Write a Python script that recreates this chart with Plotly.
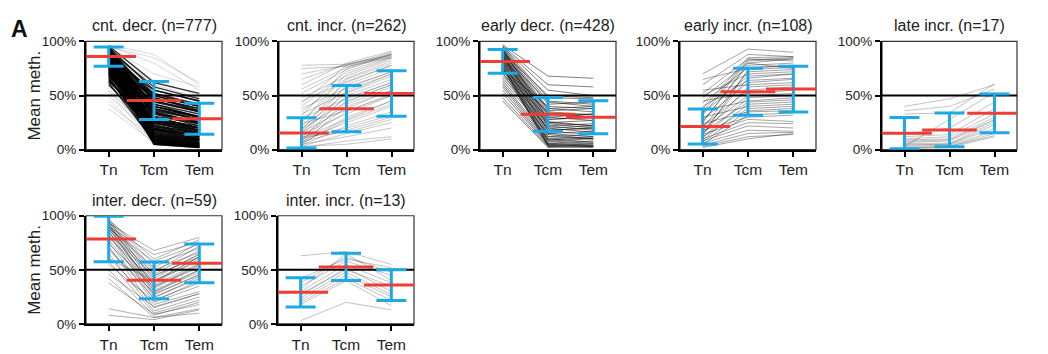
import plotly.graph_objects as go

# ---------------- data ----------------
STAGES = ["Tn", "Tcm", "Tem"]
TITLES = ["cnt. decr. (n=777)", "cnt. incr. (n=262)", "early decr. (n=428)",
          "early incr. (n=108)", "late incr. (n=17)", "inter. decr. (n=59)",
          "inter. incr. (n=13)"]
REF_LEVEL = 50

# cnt. decr. (dense core)
cd_tn = [96,95,94,93,92,92,91,91,90,90,89,89,88,88,87,87,86,86,85,85,84,84,83,83,82,82,81,80,80,79,
         78,78,77,76,75,74,73,72,71,70,68,66,64,62,60,
         96,95,94,93,92,91,90,89,88,87,86,85,84,83,82,81,80,79,78,77,76,75,74,73,72,70,69,67,65,63]
cd_tcm = [62,55,48,40,58,35,52,30,50,25,47,20,45,15,42,10,40,8,38,6,36,5,33,28,22,18,12,44,9,31,
          27,16,7,24,5,37,14,19,11,26,6,13,21,8,17,
          30,22,45,12,38,18,50,8,27,42,14,33,55,20,10,48,25,6,35,16,40,11,29,52,19,9,23,34,13,26]
cd_tem = [52,45,38,30,47,25,42,20,40,16,38,12,36,9,33,5,31,4,30,3,28,2,26,22,16,13,8,35,5,24,
          20,10,3,18,2,28,9,14,6,20,3,8,15,4,11,
          20,12,35,6,28,10,40,3,18,30,7,22,45,12,5,36,15,3,25,9,30,5,18,40,10,4,14,24,6,17]
# cnt. decr. (sparse outliers)
cd_faint_tn = [97,96,95,94,93,95,57,54,50,46,42,38,60,55]
cd_faint_tcm = [88,80,70,64,60,85,9,6,12,5,10,7,20,15]
cd_faint_tem = [60,55,58,50,48,62,5,3,7,2,6,4,10,8]
cd_mean = [86.0, 45.5, 28.6]
cd_sd = [8.8, 17.6, 14.3]

# cnt. incr.
ci_tn = [2,3,4,5,5,6,7,8,8,9,10,10,11,12,13,14,15,16,17,18,19,20,22,24,25,27,29,31,33,35,
         38,40,43,45,48,52,56,60,65,70,75,78,3,6,12]
ci_tcm = [8,15,22,12,30,40,18,25,45,35,20,50,28,42,55,33,60,38,48,65,44,52,58,36,70,62,47,75,53,66,
          57,72,78,63,68,74,76,80,79,78,77,79,5,27,16]
ci_tem = [12,25,35,20,45,55,30,40,60,52,32,65,45,58,70,50,75,55,62,80,60,68,72,50,85,78,62,88,70,82,
          72,86,90,78,84,88,89,91,88,86,85,87,10,42,28]
ci_mean = [15.5, 37.9, 52.0]
ci_sd = [14.0, 21.4, 21.0]

# early decr.
ed_tn = [97,96,95,95,94,93,93,92,91,91,90,89,89,88,87,86,86,85,84,83,82,81,80,79,78,77,76,75,74,72,
         70,68,66,64,62,60,58,55,52,48,45,90,88,85,82,93,87,80,76,71]
ed_tcm = [68,60,55,48,45,42,38,36,34,32,30,28,26,25,24,22,20,18,17,15,14,12,10,8,6,5,4,3,40,35,
          30,25,20,15,10,8,6,5,4,3,2,50,44,38,33,28,22,18,12,9]
ed_tem = [66,58,50,47,42,44,35,38,30,33,27,30,22,27,20,24,16,20,14,17,10,14,7,10,4,6,3,4,38,32,
          33,22,22,12,12,6,8,3,5,2,3,48,40,40,30,30,18,20,10,11]
ed_mean = [81.6, 32.7, 30.0]
ed_sd = [11.0, 15.6, 15.2]

# early incr.
ei_tn = [70,65,60,55,52,50,48,45,43,40,38,36,34,32,30,28,26,24,22,20,
         19,18,17,16,15,14,13,12,11,10,9,8,7,6,5,4,3,2,25,35]
ei_tcm = [93,75,88,60,84,70,80,52,76,64,85,45,68,82,40,62,78,35,55,72,
          50,30,66,44,58,28,74,38,48,25,42,22,36,18,32,15,12,10,80,83]
ei_tem = [90,78,86,62,82,72,84,55,78,66,86,48,70,84,42,65,80,36,58,74,
          52,32,70,46,60,26,76,40,50,24,44,20,38,17,34,16,14,15,75,85]
ei_mean = [21.5, 53.5, 56.0]
ei_sd = [16.2, 21.7, 21.2]

# late incr.
li_tn = [40,36,33,12,10,9,8,7,6,5,4,3,2,1,14,3,1]
li_tcm = [47,40,34,14,12,10,9,8,6,5,5,4,3,3,20,28,2]
li_tem = [60,56,61,38,33,30,28,27,25,23,20,17,15,13,44,53,12]
li_mean = [15.3, 18.3, 33.6]
li_sd = [14.4, 15.6, 17.9]

# inter. decr.
id_tn = [97,96,95,95,94,93,92,92,91,90,89,88,87,86,85,84,83,82,80,78,
         76,74,72,70,68,65,62,58,55,50,46,42,38,14,8,96,93,90,88,60]
id_tcm = [55,50,45,40,48,35,42,30,38,28,52,33,46,25,36,44,22,31,39,27,
          20,34,15,24,29,12,18,10,21,8,16,6,9,6,4,60,68,64,58,40]
id_tem = [70,66,62,58,72,52,65,48,60,45,75,54,68,42,56,64,38,50,62,46,
          35,55,28,44,50,25,30,22,40,20,28,14,18,10,13,78,80,76,74,62]
id_mean = [78.6, 40.3, 56.0]
id_sd = [21.0, 17.0, 18.0]

# inter. incr.
ii_tn = [63,3,42,38,35,32,30,28,26,24,22,20,18]
ii_tcm = [67,20,60,62,58,65,55,50,52,48,45,42,40]
ii_tem = [55,13,52,48,45,40,38,35,30,27,25,22,17]
ii_mean = [29.2, 52.7, 36.0]
ii_sd = [13.5, 12.6, 14.2]

PANELS = [
    (cd_tn, cd_tcm, cd_tem, cd_mean, cd_sd),
    (ci_tn, ci_tcm, ci_tem, ci_mean, ci_sd),
    (ed_tn, ed_tcm, ed_tem, ed_mean, ed_sd),
    (ei_tn, ei_tcm, ei_tem, ei_mean, ei_sd),
    (li_tn, li_tcm, li_tem, li_mean, li_sd),
    (id_tn, id_tcm, id_tem, id_mean, id_sd),
    (ii_tn, ii_tcm, ii_tem, ii_mean, ii_sd),
]
FAINT = {0: (cd_faint_tn, cd_faint_tcm, cd_faint_tem)}

# ---------------- layout geometry (pixels) ----------------
W, H = 1048, 354
BOXES = [(86, 222, 36, 149), (279, 414, 36, 149), (480, 616, 36, 149),
         (680, 816, 36, 149), (882, 1017, 36, 149),
         (86, 222, 218, 331), (278, 414, 218, 331)]
LINE_STYLE = [(0.8, 1.4), (0.28, 0.8), (0.5, 1.0), (0.4, 0.9),
              (0.3, 0.8), (0.4, 0.8), (0.3, 0.8)]

FONT = "Liberation Sans, Arial, Helvetica, sans-serif"
RED = "#EE3D35"
BLUE = "#1DA9E5"


def polyline(a_list, b_list, c_list):
    xs, ys = [], []
    for a, b, c in zip(a_list, b_list, c_list):
        xs += [0, 1, 2, None]
        ys += [a, b, c, None]
    return xs, ys


fig = go.Figure()
layout = dict(width=W, height=H, autosize=False, margin=dict(l=0, r=0, t=0, b=0),
              paper_bgcolor="white", plot_bgcolor="white",
              showlegend=False, font=dict(family=FONT, color="#222"))
annotations = []
shapes = []

for i, (tn, tcm, tem, mean, sd) in enumerate(PANELS):
    k = "" if i == 0 else str(i + 1)
    xa, ya = "x" + k, "y" + k
    x0, x1, y0, y1 = BOXES[i]
    layout["xaxis" + k] = dict(
        domain=[x0 / W, x1 / W], anchor=ya, range=[-0.5, 2.5],
        tickmode="array", tickvals=[0, 1, 2], ticktext=STAGES,
        ticks="outside", ticklen=5, tickwidth=2, tickcolor="black",
        showline=True, linecolor="black", linewidth=2, showgrid=False,
        zeroline=False, tickfont=dict(size=15.5, color="#222"), fixedrange=True)
    layout["yaxis" + k] = dict(
        domain=[1 - y1 / H, 1 - y0 / H], anchor=xa, range=[0, 100],
        tickmode="array", tickvals=[0, 50, 100], ticktext=["0%", "50%", "100%"],
        ticks="outside", ticklen=5, tickwidth=2, tickcolor="black",
        showline=True, linecolor="black", linewidth=2, showgrid=False,
        zeroline=False, tickfont=dict(size=13.5, color="#222"), fixedrange=True)

    # faint outlier trajectories
    if i in FAINT:
        fx, fy = polyline(*FAINT[i])
        fig.add_trace(go.Scatter(x=fx, y=fy, mode="lines", xaxis=xa, yaxis=ya,
                                 line=dict(color="rgba(0,0,0,0.22)", width=0.7),
                                 hoverinfo="skip"))
    # individual trajectories
    xs, ys = polyline(tn, tcm, tem)
    alpha, lw = LINE_STYLE[i]
    fig.add_trace(go.Scatter(x=xs, y=ys, mode="lines", xaxis=xa, yaxis=ya,
                             line=dict(color=f"rgba(0,0,0,{alpha})", width=lw),
                             hoverinfo="skip"))
    # 50 % reference line
    fig.add_trace(go.Scatter(x=[-0.5, 2.5], y=[REF_LEVEL, REF_LEVEL], mode="lines",
                             xaxis=xa, yaxis=ya, line=dict(color="black", width=2),
                             hoverinfo="skip"))
    # SD error bars
    fig.add_trace(go.Scatter(x=[0, 1, 2], y=mean, mode="markers", xaxis=xa, yaxis=ya,
                             marker=dict(size=1, color="rgba(0,0,0,0)"),
                             error_y=dict(type="data", array=sd, visible=True,
                                          color=BLUE, thickness=3, width=15),
                             hoverinfo="skip"))
    # means
    fig.add_trace(go.Scatter(x=[0, 1, 2], y=mean, mode="markers", xaxis=xa, yaxis=ya,
                             marker=dict(symbol="line-ew", size=39,
                                         line=dict(color=RED, width=3)),
                             hoverinfo="skip"))

    # frame box
    shapes.append(dict(type="rect", xref=xa + " domain", yref=ya + " domain",
                       x0=0, x1=1, y0=0, y1=1, line=dict(color="#333", width=1.2),
                       layer="below"))
    # title
    annotations.append(dict(text=TITLES[i], xref=xa + " domain", yref=ya + " domain",
                            x=0.5, y=1, xanchor="center", yanchor="bottom", yshift=5,
                            showarrow=False, font=dict(size=16, color="#222")))

# y-axis titles
for (x0, x1, y0, y1) in (BOXES[0], BOXES[5]):
    annotations.append(dict(text="Mean meth.", xref="paper", yref="paper",
                            x=35 / W, y=1 - (y0 + y1) / 2 / H, xanchor="center",
                            yanchor="middle", textangle=-90, showarrow=False,
                            font=dict(size=17, color="#222")))
# panel letter
annotations.append(dict(text="<b>A</b>", xref="paper", yref="paper", x=19 / W,
                        y=1 - 23 / H, xanchor="center", yanchor="middle",
                        showarrow=False, font=dict(size=23, color="#111")))

layout["annotations"] = annotations
layout["shapes"] = shapes
fig.update_layout(**layout)
fig.write_html("out.html",
               config={"displayModeBar": False, "responsive": False},
               post_script="document.body.style.margin='0';document.body.style.overflow='hidden';")
